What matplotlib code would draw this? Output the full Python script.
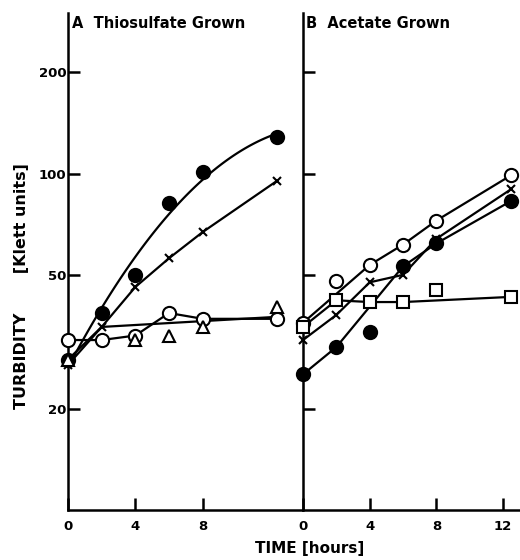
"""
Turbidity vs time for thiosulfate- and acetate-grown cultures.
"""

import matplotlib
matplotlib.use("Agg")
from matplotlib import pyplot as plt
from matplotlib.ticker import FixedLocator, NullLocator
import numpy as np

# Panel A - thiosulfate grown
a_time = [0, 2, 4, 6, 8, 12.4]
a_filled = [28, 38.5, 50, 82, 101, 128]
a_cross = [27, 35, 46, 56, 67, 95]
a_open = [32, 32, 33, 38.5, 37, 37]
a_tri_time = [0, 4, 6, 8, 12.4]
a_tri = [28, 32, 33, 35, 40]
# hand-drawn line through the triangles
a_tri_line_time = [0, 2, 12.4]
a_tri_line = [28, 35, 37.5]

# Panel B - acetate grown
b_time = [0, 2, 4, 6, 8, 12.5]
b_filled = [25.3, 30.5, 33.8, 53, 62, 83]
b_cross = [32, 38, 47.5, 50, 64, 90]
b_open = [36, 48, 53.5, 61.5, 72.5, 99]
b_square = [35, 42, 41.5, 41.5, 45, 43]
# points the drawn lines skip
b_filled_skip = 2
b_open_skip = 1
b_square_skip = 4

y_ticks = [20, 50, 100, 200]
y_labels = ["20", "50", "100", "200"]
a_xticks = [0, 4, 8]
b_xticks = [0, 4, 8, 12]

FONT = ["DejaVu Sans"]
LW = 1.6


def style_axis(ax, xticks, xmax, show_ylabels):
    ax.set_yscale("log")
    ax.set_ylim(10, 300)
    ax.set_xlim(0, xmax)
    ax.yaxis.set_major_locator(FixedLocator(y_ticks))
    ax.yaxis.set_minor_locator(NullLocator())
    ax.set_xticks(xticks)
    ax.set_xticklabels([str(t) for t in xticks], fontweight="bold", fontsize=9.5, family=FONT)
    if show_ylabels:
        ax.set_yticklabels(y_labels, fontweight="bold", fontsize=9.5, family=FONT)
    else:
        ax.set_yticklabels([])
    for side in ("top", "right"):
        ax.spines[side].set_visible(False)
    for side in ("left", "bottom"):
        ax.spines[side].set_linewidth(1.8)
    ax.tick_params(direction="in", length=8.5, width=1.8)
    ax.tick_params(axis="x", pad=7)
    ax.tick_params(axis="y", pad=1)
    ax.patch.set_alpha(0)


def markers(ax, x, y, marker, filled, size=9.5):
    ax.plot(x, y, linestyle="none", marker=marker, markersize=size,
            markerfacecolor="black" if filled else "white",
            markeredgecolor="black", markeredgewidth=1.5, zorder=5, clip_on=False)


def _main():
    fig = plt.figure(figsize=(5.2, 5.6), dpi=100)
    bottom = 50 / 560
    height = 497 / 560
    ax_a = fig.add_axes([68 / 520, bottom, 234 / 520, height])
    ax_b = fig.add_axes([303 / 520, bottom, 216 / 520, height])

    # ---- panel A
    t = np.array(a_time)
    fit = np.polyfit(t, np.log10(a_filled), 2)
    tt = np.linspace(0, a_time[-1], 100)
    ax_a.plot(tt, 10 ** np.polyval(fit, tt), color="black", lw=LW)
    markers(ax_a, a_time, a_filled, "o", True)

    ax_a.plot(a_time, a_cross, color="black", lw=LW)
    markers(ax_a, a_time, a_cross, "x", True, size=6)

    ax_a.plot(a_time, a_open, color="black", lw=LW)
    markers(ax_a, a_time, a_open, "o", False)

    ax_a.plot(a_tri_line_time, a_tri_line, color="black", lw=LW)
    markers(ax_a, a_tri_time, a_tri, "^", False, size=8)

    style_axis(ax_a, a_xticks, 13.9, True)
    ax_a.text(0.25, 280, "A  Thiosulfate Grown", fontsize=10.5, fontweight="bold",
              family=FONT, va="center")

    # ---- panel B
    keep = [i for i in range(len(b_time)) if i != b_filled_skip]
    ax_b.plot([b_time[i] for i in keep], [b_filled[i] for i in keep], color="black", lw=LW)
    markers(ax_b, b_time, b_filled, "o", True)

    ax_b.plot(b_time, b_cross, color="black", lw=LW)
    markers(ax_b, b_time, b_cross, "x", True, size=6)

    keep = [i for i in range(len(b_time)) if i != b_open_skip]
    ax_b.plot([b_time[i] for i in keep], [b_open[i] for i in keep], color="black", lw=LW)
    markers(ax_b, b_time, b_open, "o", False)

    keep = [i for i in range(len(b_time)) if i != b_square_skip]
    ax_b.plot([b_time[i] for i in keep], [b_square[i] for i in keep], color="black", lw=LW)
    markers(ax_b, b_time, b_square, "s", False, size=8)

    style_axis(ax_b, b_xticks, 12.95, False)
    ax_b.text(0.15, 280, "B  Acetate Grown", fontsize=10.5, fontweight="bold",
              family=FONT, va="center")

    fig.text(22 / 520, 1 - 286 / 560, "TURBIDITY       [Klett units]", rotation=90,
             fontsize=11.5, fontweight="bold", family=FONT, ha="center", va="center")
    fig.text(310 / 520, 1 - 548 / 560, "TIME [hours]", fontsize=11,
             fontweight="bold", family=FONT, ha="center", va="center")

    fig.savefig("out.png", dpi=100, facecolor="white")


if __name__ == "__main__":
    _main()
